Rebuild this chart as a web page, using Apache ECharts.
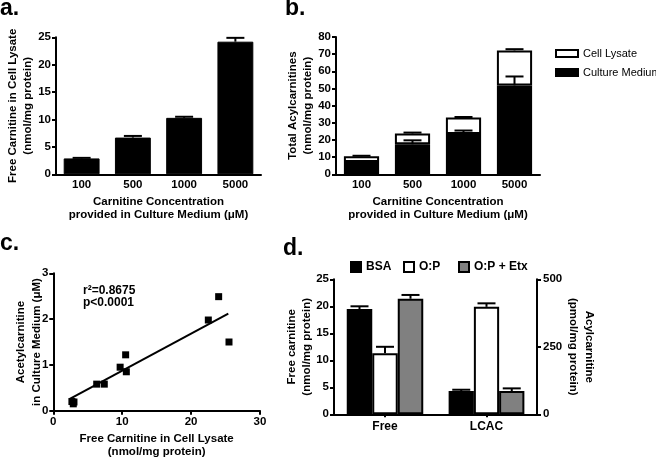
<!DOCTYPE html>
<html><head><meta charset="utf-8">
<script src="https://cdn.jsdelivr.net/npm/echarts@6/dist/echarts.min.js"></script>
<style>html,body{margin:0;padding:0;background:#fff}#c{width:656px;height:457px}</style>
</head><body><div id="c"></div>
<script>
// ---- data ----
const aCategories = ['100', '500', '1000', '5000'];
const aFreeCarnitine = [2.9, 6.7, 10.3, 24.2];
const aFreeCarnitineErr = [0.1, 0.3, 0.2, 0.7];

const bCategories = ['100', '500', '1000', '5000'];
const bCultureMedium = [7.2, 17.5, 23.5, 51.8];
const bCultureMediumErr = [0.4, 2.3, 2.0, 5.2];
const bCellLysate = [3.3, 6.3, 9.6, 20.4];
const bCellLysateErr = [0.3, 0.5, 0.3, 0.7];

const cFreeCarnitine = [2.7, 2.9, 3.0, 6.3, 7.4, 9.7, 10.5, 10.6, 22.5, 24.0, 25.5];
const cAcetylcarnitine = [0.2, 0.15, 0.19, 0.58, 0.58, 0.95, 1.22, 0.85, 1.98, 2.49, 1.50];
const cFitX = [2.4, 25.4];
const cFitY = [0.26, 2.12];
const cStats = ['r\u00b2=0.8675', 'p<0.0001'];

const dLeftGroup = ['Free'];
const dRightGroup = ['LCAC'];
const dSeriesNames = ['BSA', 'O:P', 'O:P + Etx'];
const dFree = [19.5, 11.3, 21.4];
const dFreeErr = [0.5, 1.2, 0.7];
const dLCAC = [86, 398, 86];
const dLCACErr = [5, 13, 10];

const aTicks = { min: 0, max: 25, interval: 5 };
const bTicks = { min: 0, max: 80, interval: 10 };
const cXTicks = { min: 0, max: 30, interval: 10 };
const cYTicks = { min: 0, max: 3, interval: 1 };
const dLeftTicks = { min: 0, max: 25, interval: 5 };
const dRightTicks = { min: 0, max: 500, interval: 250 };

// ---- styles ----
const FONT = "'Liberation Sans', Arial, Helvetica, sans-serif";
const BLACK = '#000';
function txt(size, extra) {
  return Object.assign({ color: BLACK, fontFamily: FONT, fontWeight: 'bold', fontSize: size }, extra || {});
}
const line2 = { show: true, onZero: false, lineStyle: { color: BLACK, width: 2 } };
function valAxis(grid, t, extra) {
  return Object.assign({
    type: 'value', gridIndex: grid, min: t.min, max: t.max, interval: t.interval,
    axisLine: line2,
    axisTick: { show: true, length: 4, lineStyle: { color: BLACK, width: 2 } },
    axisLabel: txt(11.5, { margin: 5 }),
    splitLine: { show: false },
    nameMoveOverlap: false
  }, extra || {});
}
function catAxis(grid, cats, extra) {
  return Object.assign({
    type: 'category', gridIndex: grid, data: cats,
    axisLine: line2,
    axisTick: { show: false },
    axisLabel: txt(11.5, { margin: 5 }),
    splitLine: { show: false },
    nameMoveOverlap: false
  }, extra || {});
}
function errorBars(xi, yi, data, slot, nSlots, gapFrac) {
  return {
    type: 'custom', xAxisIndex: xi, yAxisIndex: yi, z: 5, silent: true, clip: false,
    data: data,
    renderItem: function (params, api) {
      const ci = api.value(0), top = api.value(1), err = api.value(2);
      const band = api.size([1, 0])[0];
      const bw = band * (1 - gapFrac) / nSlots;
      const cx = api.coord([ci, 0])[0] + (slot - (nSlots - 1) / 2) * bw;
      const y0 = api.coord([ci, top])[1];
      const y1 = api.coord([ci, top + err])[1];
      const half = 9;
      const st = { stroke: BLACK, lineWidth: 2 };
      return { type: 'group', children: [
        { type: 'line', shape: { x1: cx, y1: y0, x2: cx, y2: y1 }, style: st },
        { type: 'line', shape: { x1: cx - half, y1: y1, x2: cx + half, y2: y1 }, style: st }
      ] };
    }
  };
}

const dColors = ['#000', '#fff', '#808080'];
const grids = [
  { left: 56, top: 37.3, width: 205, height: 137, outerBoundsMode: 'none' },
  { left: 336, top: 37, width: 204, height: 137.3, outerBoundsMode: 'none' },
  { left: 53.3, top: 273.3, width: 206.7, height: 137.4, outerBoundsMode: 'none' },
  { left: 334, top: 279.3, width: 102, height: 135, outerBoundsMode: 'none' },
  { left: 436, top: 279.3, width: 101, height: 135, outerBoundsMode: 'none' }
];

const series = [];
// panel a
series.push({ type: 'bar', xAxisIndex: 0, yAxisIndex: 0, data: aFreeCarnitine, barCategoryGap: '30%',
  itemStyle: { color: BLACK, borderColor: BLACK, borderWidth: 1, opacity: 1 } });
series.push(errorBars(0, 0, aFreeCarnitine.map((v, i) => [i, v, aFreeCarnitineErr[i]]), 0, 1, 0.3));
// panel b
series.push({ type: 'bar', name: 'Culture Medium', stack: 'b', xAxisIndex: 1, yAxisIndex: 1, data: bCultureMedium,
  barCategoryGap: '31%', itemStyle: { color: BLACK, borderColor: BLACK, borderWidth: 2, opacity: 1 } });
series.push({ type: 'bar', name: 'Cell Lysate', stack: 'b', xAxisIndex: 1, yAxisIndex: 1, data: bCellLysate,
  barCategoryGap: '31%', itemStyle: { color: '#fff', borderColor: BLACK, borderWidth: 2, opacity: 1 } });
series.push(errorBars(1, 1, bCultureMedium.map((v, i) => [i, v, bCultureMediumErr[i]]), 0, 1, 0.31));
series.push(errorBars(1, 1, bCultureMedium.map((v, i) => [i, v + bCellLysate[i], bCellLysateErr[i]]), 0, 1, 0.31));
// panel c
series.push({ type: 'scatter', xAxisIndex: 2, yAxisIndex: 2, symbol: 'rect', symbolSize: 7,
  itemStyle: { color: BLACK, opacity: 1 }, data: cFreeCarnitine.map((x, i) => [x, cAcetylcarnitine[i]]) });
series.push({ type: 'line', xAxisIndex: 2, yAxisIndex: 2, symbol: 'none', silent: true,
  lineStyle: { color: BLACK, width: 2, opacity: 1 }, data: cFitX.map((x, i) => [x, cFitY[i]]) });
// panel d
dSeriesNames.forEach((n, k) => {
  series.push({ type: 'bar', name: n, xAxisIndex: 3, yAxisIndex: 3, data: [dFree[k]],
    barCategoryGap: '25%', barGap: '0%',
    itemStyle: { color: dColors[k], borderColor: BLACK, borderWidth: 2, opacity: 1 } });
  series.push({ type: 'bar', name: n, xAxisIndex: 4, yAxisIndex: 4, data: [dLCAC[k]],
    barCategoryGap: '25%', barGap: '0%',
    itemStyle: { color: dColors[k], borderColor: BLACK, borderWidth: 2, opacity: 1 } });
});
dSeriesNames.forEach((n, k) => {
  series.push(errorBars(3, 3, [[0, dFree[k], dFreeErr[k]]], k, 3, 0.25));
  series.push(errorBars(4, 4, [[0, dLCAC[k], dLCACErr[k]]], k, 3, 0.25));
});

const xName = { nameLocation: 'middle', nameTextStyle: txt(11.5, { lineHeight: 13 }) };
const option = {
  animation: false,
  backgroundColor: '#fff',
  textStyle: { fontFamily: FONT },
  grid: grids,
  xAxis: [
    catAxis(0, aCategories, Object.assign({ name: 'Carnitine Concentration\nprovided in Culture Medium (\u03bcM)', nameGap: 21.5 }, xName)),
    catAxis(1, bCategories, Object.assign({ name: 'Carnitine Concentration\nprovided in Culture Medium (\u03bcM)', nameGap: 21.5 }, xName)),
    valAxis(2, cXTicks, { name: 'Free Carnitine in Cell Lysate\n(nmol/mg protein)', nameLocation: 'middle', nameGap: 22,
      nameTextStyle: txt(11.5, { lineHeight: 12.5 }) }),
    catAxis(3, dLeftGroup, { axisLabel: txt(12, { margin: 6 }),
      axisTick: { show: true, alignWithLabel: true, length: 3, lineStyle: { color: BLACK, width: 2 } } }),
    catAxis(4, dRightGroup, { axisLabel: txt(12, { margin: 6 }),
      axisTick: { show: true, alignWithLabel: true, length: 3, lineStyle: { color: BLACK, width: 2 } } })
  ],
  yAxis: [
    valAxis(0, aTicks, { name: 'Free Carnitine in Cell Lysate\n(nmol/mg protein)', nameLocation: 'middle', nameGap: 21,
      nameTextStyle: txt(11.5, { lineHeight: 15 }) }),
    valAxis(1, bTicks, { name: 'Total Acylcarnitines\n(nmol/mg protein)', nameLocation: 'middle', nameGap: 21,
      nameTextStyle: txt(11.5, { lineHeight: 15 }) }),
    valAxis(2, cYTicks, { name: 'Acetylcarnitine\nin Culture Medium (\u03bcM)', nameLocation: 'middle', nameGap: 8,
      nameTextStyle: txt(11.5, { lineHeight: 16 }) }),
    valAxis(3, dLeftTicks, { name: 'Free carnitine\n(nmol/mg protein)', nameLocation: 'middle', nameGap: 20,
      nameTextStyle: txt(11.5, { lineHeight: 15 }), axisLabel: txt(11.5, { margin: 5 }) }),
    valAxis(4, dRightTicks, { position: 'right', name: 'Acylcarnitine\n(pmol/mg protein)', nameLocation: 'middle',
      nameGap: 28, nameRotate: -90, nameTextStyle: txt(11.5, { lineHeight: 16 }), axisLabel: txt(11.5, { margin: 6 }) })
  ],
  legend: [
    { data: ['Cell Lysate', 'Culture Medium'], orient: 'vertical', left: 555, top: 48, icon: 'rect',
      itemWidth: 22, itemHeight: 7, itemGap: 8, selectedMode: false, padding: 0,
      textStyle: { color: BLACK, fontFamily: FONT, fontSize: 11, fontWeight: 'normal' } },
    { data: ['BSA'], left: 350, top: 261, icon: 'rect', itemWidth: 10, itemHeight: 10, selectedMode: false, padding: 0,
      textStyle: txt(12) },
    { data: ['O:P'], left: 403, top: 261, icon: 'rect', itemWidth: 10, itemHeight: 10, selectedMode: false, padding: 0,
      textStyle: txt(12) },
    { data: ['O:P + Etx'], left: 458, top: 261, icon: 'rect', itemWidth: 10, itemHeight: 10, selectedMode: false, padding: 0,
      textStyle: txt(12) }
  ],
  graphic: [
    { type: 'text', x: 0, y: 9, style: { text: 'a.', font: "bold 23px 'Liberation Sans', Arial", fill: BLACK, verticalAlign: 'middle' } },
    { type: 'text', x: 285, y: 9, style: { text: 'b.', font: "bold 23px 'Liberation Sans', Arial", fill: BLACK, verticalAlign: 'middle' } },
    { type: 'text', x: 0, y: 244, style: { text: 'c.', font: "bold 23px 'Liberation Sans', Arial", fill: BLACK, verticalAlign: 'middle' } },
    { type: 'text', x: 283, y: 249, style: { text: 'd.', font: "bold 23px 'Liberation Sans', Arial", fill: BLACK, verticalAlign: 'middle' } },
    { type: 'text', x: 83, y: 284, style: { text: cStats.join('\n'), font: "bold 12px 'Liberation Sans', Arial",
      fill: BLACK, lineHeight: 12.5, verticalAlign: 'top' } }
  ],
  series: series
};
const chart = echarts.init(document.getElementById('c'), null, { renderer: 'canvas' });
chart.setOption(option);
</script>
</body></html>
